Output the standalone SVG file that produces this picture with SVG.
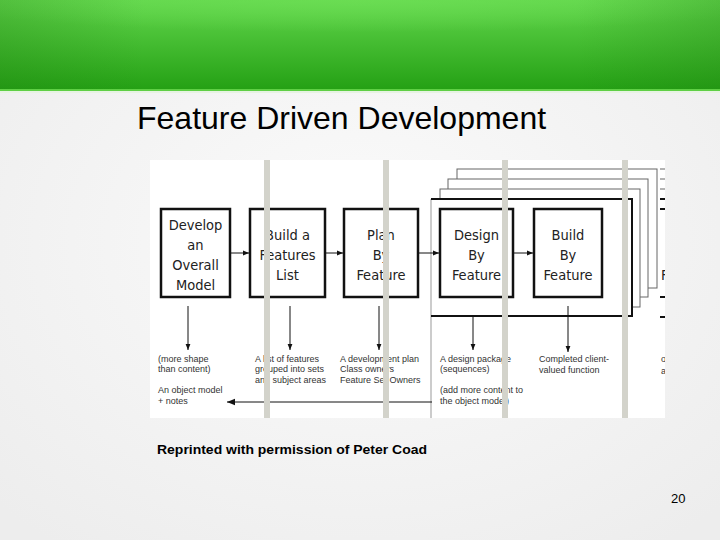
<svg xmlns="http://www.w3.org/2000/svg" width="720" height="540" viewBox="0 0 720 540">
<defs>
  <linearGradient id="hdr" x1="0" y1="0" x2="0" y2="1">
    <stop offset="0" stop-color="#62d64c"/>
    <stop offset="1" stop-color="#24a014"/>
  </linearGradient>
  <radialGradient id="hdrGlow" cx="0.5" cy="0" r="0.6" gradientTransform="translate(0.5 0) scale(1 0.6) translate(-0.5 0)">
    <stop offset="0" stop-color="#6ee056" stop-opacity="0.7"/>
    <stop offset="1" stop-color="#6ee056" stop-opacity="0"/>
  </radialGradient>
  <linearGradient id="hdrSide" x1="0" y1="0" x2="1" y2="0">
    <stop offset="0" stop-color="#1f7a10" stop-opacity="0.25"/>
    <stop offset="0.2" stop-color="#1f7a10" stop-opacity="0"/>
    <stop offset="0.8" stop-color="#1f7a10" stop-opacity="0"/>
    <stop offset="1" stop-color="#1f7a10" stop-opacity="0.25"/>
  </linearGradient>
  <radialGradient id="bg" cx="0.5" cy="0.45" r="0.7">
    <stop offset="0" stop-color="#fbfbfb"/>
    <stop offset="1" stop-color="#ededed"/>
  </radialGradient>
  <marker id="ah" viewBox="0 0 10 10" refX="10" refY="5" markerWidth="6" markerHeight="6" markerUnits="userSpaceOnUse" orient="auto">
    <path d="M0,1 L10,5 L0,9 Z" fill="#111"/>
  </marker>
  <marker id="ahL" viewBox="0 0 10 10" refX="10" refY="5" markerWidth="8" markerHeight="8" markerUnits="userSpaceOnUse" orient="auto">
    <path d="M0,1 L10,5 L0,9 Z" fill="#111"/>
  </marker>
  <clipPath id="imgClip"><rect x="150" y="160" width="515" height="258"/></clipPath>
  <style>
    .box { fill: #fff; stroke: #111; stroke-width: 2.5; }
    .bt { font-family: "DejaVu Sans Condensed", "Liberation Sans", Arial, sans-serif; font-size: 14.5px; fill: #222; text-anchor: middle; }
    .st { font-family: "Liberation Sans", Arial, sans-serif; font-size: 9px; fill: #333; }
    .conn { stroke: #111; stroke-width: 1; fill: none; }
    .back { fill: #fff; stroke: #666; stroke-width: 1; }
    .bar { fill: #d3d3cb; }
  </style>
</defs>

<!-- slide background -->
<rect x="0" y="0" width="720" height="540" fill="url(#bg)"/>
<!-- header -->
<rect x="0" y="0" width="720" height="90" fill="url(#hdr)"/>
<rect x="0" y="0" width="720" height="90" fill="url(#hdrGlow)"/>
<rect x="0" y="0" width="720" height="90" fill="url(#hdrSide)"/>
<rect x="0" y="89" width="720" height="2" fill="#5fcf45"/>
<rect x="0" y="91" width="720" height="2" fill="#e6f3e2"/>

<text x="137" y="129" font-family="Liberation Sans, Arial, sans-serif" font-size="32" fill="#000">Feature Driven Development</text>

<!-- embedded figure -->
<rect x="150" y="160" width="515" height="258" fill="#fff"/>
<g clip-path="url(#imgClip)">
  <g id="stack">
    <rect class="back" x="457" y="169" width="200" height="119"/>
    <rect class="back" x="448" y="179" width="200" height="118"/>
    <rect class="back" x="440" y="189" width="200" height="118"/>
    <rect x="431" y="199" width="201" height="117" fill="#fff"/>
    <line x1="431" y1="199" x2="431" y2="418" stroke="#999" stroke-width="1"/>
    <polyline points="431,199 632,199 632,316 431,316" fill="none" stroke="#111" stroke-width="2"/>
  </g>

  <g id="next-set">
    <line x1="660" y1="169" x2="666" y2="169" stroke="#666" stroke-width="1"/>
    <line x1="660" y1="179" x2="666" y2="179" stroke="#666" stroke-width="1"/>
    <line x1="660" y1="189" x2="666" y2="189" stroke="#666" stroke-width="1"/>
    <line x1="660" y1="199" x2="666" y2="199" stroke="#111" stroke-width="2"/>
    <line x1="660" y1="209" x2="666" y2="209" stroke="#111" stroke-width="2"/>
    <line x1="660" y1="297" x2="666" y2="297" stroke="#111" stroke-width="2"/>
    <line x1="660" y1="317" x2="666" y2="317" stroke="#111" stroke-width="2"/>
    <text class="bt" x="661" y="280" style="text-anchor:start">F</text>
    <text class="st" x="661" y="362">o</text>
    <text class="st" x="661" y="374">al</text>
  </g>

  <g id="n1">
    <rect class="box" x="161" y="209" width="69" height="88"/>
    <text class="bt" x="195.5" y="230">Develop</text>
    <text class="bt" x="195.5" y="250">an</text>
    <text class="bt" x="195.5" y="270">Overall</text>
    <text class="bt" x="195.5" y="290">Model</text>
  </g>
  <g id="n2">
    <rect class="box" x="250" y="209" width="75" height="88"/>
    <text class="bt" x="287.5" y="240">Build a</text>
    <text class="bt" x="287.5" y="260">Features</text>
    <text class="bt" x="287.5" y="280">List</text>
  </g>
  <g id="n3">
    <rect class="box" x="344" y="209" width="74" height="88"/>
    <text class="bt" x="381" y="240">Plan</text>
    <text class="bt" x="381" y="260">By</text>
    <text class="bt" x="381" y="280">Feature</text>
  </g>
  <g id="n4">
    <rect class="box" x="440" y="209" width="73" height="88"/>
    <text class="bt" x="476.5" y="240">Design</text>
    <text class="bt" x="476.5" y="260">By</text>
    <text class="bt" x="476.5" y="280">Feature</text>
  </g>
  <g id="n5">
    <rect class="box" x="534" y="209" width="68" height="88"/>
    <text class="bt" x="568" y="240">Build</text>
    <text class="bt" x="568" y="260">By</text>
    <text class="bt" x="568" y="280">Feature</text>
  </g>

  <g id="outputs">
    <text class="st" x="158" y="362">(more shape</text>
    <text class="st" x="158" y="372">than content)</text>
    <text class="st" x="158" y="393">An object model</text>
    <text class="st" x="158" y="404">+ notes</text>
    <text class="st" x="255" y="362">A list of features</text>
    <text class="st" x="255" y="372">grouped into sets</text>
    <text class="st" x="255" y="383">and subject areas</text>
    <text class="st" x="340" y="362">A development plan</text>
    <text class="st" x="340" y="372">Class owners</text>
    <text class="st" x="340" y="383">Feature Set Owners</text>
    <text class="st" x="440" y="362">A design package</text>
    <text class="st" x="440" y="372">(sequences)</text>
    <text class="st" x="440" y="393">(add more content to</text>
    <text class="st" x="440" y="404">the object model)</text>
    <text class="st" x="539" y="362">Completed client-</text>
    <text class="st" x="539" y="373">valued function</text>
  </g>

  <g id="connectors">
    <line class="conn" x1="231" y1="253" x2="249" y2="253" marker-end="url(#ah)"/>
    <line class="conn" x1="326" y1="253" x2="343" y2="253" marker-end="url(#ah)"/>
    <line class="conn" x1="419" y1="253" x2="439" y2="253" marker-end="url(#ah)"/>
    <line class="conn" x1="514" y1="253" x2="533" y2="253" marker-end="url(#ah)"/>
    <line class="conn" x1="188" y1="306" x2="188" y2="350" marker-end="url(#ah)"/>
    <line class="conn" x1="290" y1="306" x2="290" y2="350" marker-end="url(#ah)"/>
    <line class="conn" x1="379" y1="306" x2="379" y2="350" marker-end="url(#ah)"/>
    <line class="conn" x1="473" y1="317" x2="473" y2="350" marker-end="url(#ah)"/>
    <line class="conn" x1="568" y1="306" x2="568" y2="352" marker-end="url(#ah)"/>
    <line class="conn" x1="432" y1="402" x2="227" y2="402" marker-end="url(#ahL)"/>
  </g>

  <g id="bars">
    <rect class="bar" x="264" y="160" width="6" height="258"/>
    <rect class="bar" x="383" y="160" width="6" height="258"/>
    <rect class="bar" x="502" y="160" width="6" height="258"/>
    <rect class="bar" x="622" y="160" width="6" height="258"/>
  </g>
</g>

<text x="157" y="454" font-family="Liberation Sans, Arial, sans-serif" font-size="13" font-weight="bold" fill="#000" textLength="270" lengthAdjust="spacingAndGlyphs">Reprinted with permission of Peter Coad</text>
<text x="671" y="503" font-family="Liberation Sans, Arial, sans-serif" font-size="13" fill="#000">20</text>
</svg>
